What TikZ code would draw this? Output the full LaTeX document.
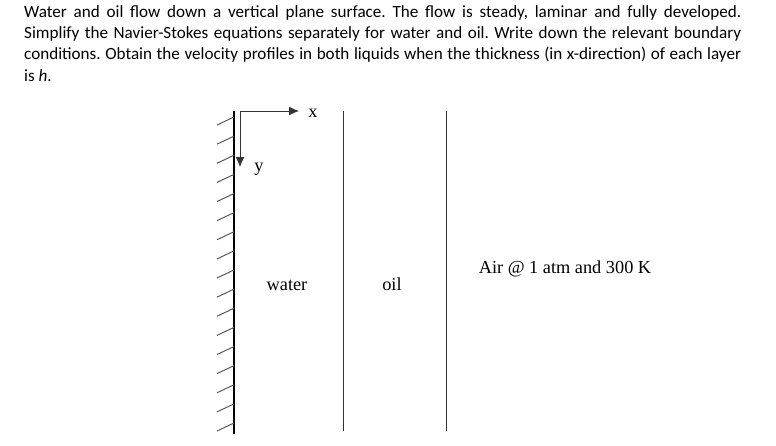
\documentclass[tikz,border=0pt]{standalone}
\usepackage{fontspec}
\setmainfont{Liberation Serif}
\newfontfamily\bodyfont{Carlito}
\usetikzlibrary{arrows.meta}
\tikzset{
    parline/.style={anchor=base west, inner sep=0pt, font=\bodyfont\fontsize{17.1}{18}\selectfont\frenchspacing},
    figlabel/.style={inner sep=0pt, font=\fontsize{18.3}{20}\selectfont},
    wall/.style={line width=2pt},
    hatch/.style={line width=1pt, black!65},
    layer/.style={line width=1pt, black!80},
    axis/.style={line width=1pt, black!80, -{Latex[length=10pt,width=9pt]}}
}
\begin{document}
\begin{tikzpicture}[x=1pt, y=-1pt]
    \useasboundingbox (0,0) rectangle (776,445);

    \node[parline] (line1) at (24,17) {\hbox to 717pt{Water and oil flow down a vertical plane surface. The flow is steady, laminar and fully developed.}};
    \node[parline] (line2) at (24,38) {\hbox to 717pt{Simplify the Navier-Stokes equations separately for water and oil. Write down the relevant boundary}};
    \node[parline] (line3) at (24,59) {\hbox to 717pt{conditions. Obtain the velocity profiles in both liquids when the thickness (in x-direction) of each layer}};
    \node[parline] (line4) at (24,81) {is \textit{h}.};

    \coordinate (walltop) at (234,111);
    \coordinate (wallend) at (234,434);
    \coordinate (origin) at (240,111);
    \coordinate (xtip) at (299,111);
    \coordinate (ytip) at (240,167);

    \draw[wall] (walltop) -- (wallend);
    \foreach \i in {0,...,16}
        \draw[hatch] (234,117+19.125*\i) -- (217,125+19.125*\i);

    \draw[axis] (origin) -- (xtip);
    \draw[axis] (origin) -- (ytip);

    \draw[layer] (343,111) -- (343,431);
    \draw[layer] (446,111) -- (446,431);

    \node[figlabel, anchor=base] (xname) at (313,117) {x};
    \node[figlabel, anchor=base] (yname) at (259,171) {y};
    \node[figlabel, anchor=base] (water) at (287,290) {water};
    \node[figlabel, anchor=base] (oil) at (392,290) {oil};
    \node[figlabel, anchor=base] (air) at (565,273) {Air @ 1 atm and 300 K};
\end{tikzpicture}
\end{document}
